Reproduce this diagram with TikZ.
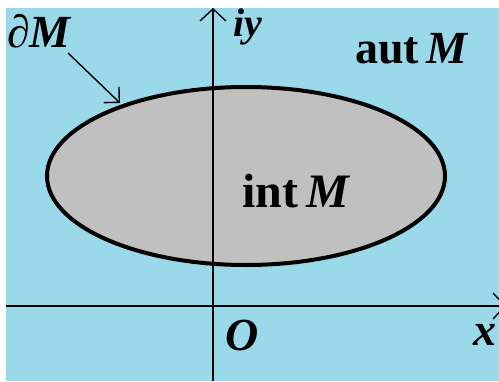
\documentclass[tikz,border=0pt]{standalone}
\usepackage{fontspec}
\setmainfont{Liberation Serif}
\usetikzlibrary{arrows.meta,shapes.geometric}
\definecolor{bgblue}{RGB}{153,217,234}
\definecolor{ingray}{RGB}{192,192,192}
\tikzset{
  lbl/.style={inner sep=0pt,anchor=base west,font=\fontsize{46}{46}\selectfont\bfseries},
  axisline/.style={line width=1.6pt,-{Straight Barb[length=12pt,width=26pt,line width=1.4pt]}},
  pointer/.style={line width=1.4pt,-{Straight Barb[length=11pt,width=22pt,line width=1.4pt]}},
  region/.style={ellipse,draw,line width=4pt,fill=ingray,minimum width=398pt,minimum height=178pt,inner sep=0pt}
}
\begin{document}
\begin{tikzpicture}[x=1pt,y=-1pt]
\clip (0,0) rectangle (499,381);
\fill[bgblue] (6,8) rectangle (499,381);
\node[region] (M) at (246,176) {};
\coordinate (ybot) at (213,381);
\coordinate (ytop) at (213,8);
\coordinate (xl) at (6,306);
\coordinate (xr) at (506,306);
\draw[axisline] (ybot) -- (ytop);
\draw[axisline] (xl) -- (xr);
\node[lbl] (dM) at (7,47) {\itshape ∂M};
\node[lbl,font=\fontsize{40}{40}\selectfont\bfseries] (iy) at (233,36) {\itshape iy};
\node[lbl] (aut) at (355,63) {aut\,\textit{M}};
\node[lbl,font=\fontsize{48}{48}\selectfont\bfseries] (int) at (242,207) {int\,\textit{M}};
\node[lbl] (O) at (225,350) {\itshape O};
\node[lbl] (x) at (473,345) {\itshape x};
\coordinate (ps) at (68,53);
\coordinate (pt) at (120,103);
\draw[pointer] (ps) -- (pt);
\end{tikzpicture}
\end{document}
